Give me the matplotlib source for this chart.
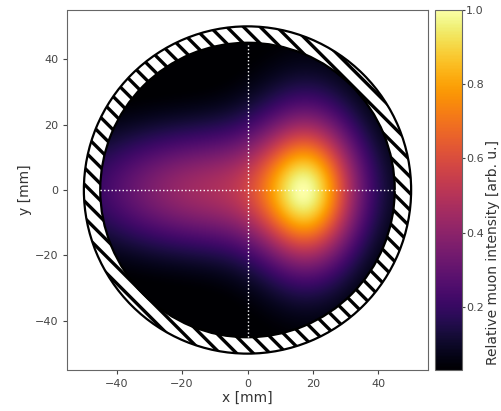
import numpy as np
import matplotlib
matplotlib.use("Agg")
import matplotlib.pyplot as plt
from matplotlib.patches import Annulus, Circle

# Beam-spot model: sum of elliptical Gaussian components (mm)
# components: broad tail, halo, core
comp_x0 = [-12.0, 18.0, 18.5]
comp_y0 = [0.0, 1.0, -1.0]
comp_sx = [27.0, 14.0, 9.5]
comp_sy = [13.0, 23.0, 15.0]
comp_amp = [0.44, 0.22, 0.54]

inner_radius = 45.0   # active area
outer_radius = 50.0   # housing
axis_ticks = [-40, -20, 0, 20, 40]
cbar_ticks = [0.2, 0.4, 0.6, 0.8, 1.0]
colour_min = 0.03

plt.rcParams["hatch.linewidth"] = 2.4
plt.rcParams["font.size"] = 8

fig = plt.figure(figsize=(5.02, 4.11), dpi=100)
ax = fig.add_axes([67 / 502, 41 / 411, 361 / 502, 360 / 411])
cax = fig.add_axes([435 / 502, 41 / 411, 27 / 502, 360 / 411])

n = 500
g = np.linspace(-inner_radius, inner_radius, n)
X, Y = np.meshgrid(g, g)
Z = np.zeros_like(X)
for x0, y0, sx, sy, a in zip(comp_x0, comp_y0, comp_sx, comp_sy, comp_amp):
    Z += a * np.exp(-((X - x0) ** 2) / (2 * sx ** 2) - ((Y - y0) ** 2) / (2 * sy ** 2))
Z /= Z.max()

im = ax.imshow(Z, extent=[-inner_radius, inner_radius, -inner_radius, inner_radius],
               origin="lower", cmap="inferno", vmin=colour_min, vmax=1.0,
               interpolation="bilinear")
clip = Circle((0, 0), inner_radius, transform=ax.transData)
im.set_clip_path(clip)

ring = Annulus((0, 0), outer_radius, outer_radius - inner_radius,
               facecolor="white", edgecolor="black", hatch="\\\\", linewidth=1.6)
ax.add_patch(ring)

ax.plot([0, 0], [-inner_radius, inner_radius], ls=":", color="white", lw=1.0)
ax.plot([-inner_radius, inner_radius], [0, 0], ls=":", color="white", lw=1.0)

ax.set_xlim(-55, 55)
ax.set_ylim(-55, 55)
ax.set_xticks(axis_ticks)
ax.set_yticks(axis_ticks)
ax.set_xlabel("x [mm]", fontsize=10, color="#333333", labelpad=1)
ax.set_ylabel("y [mm]", fontsize=10, color="#333333", labelpad=2)
ax.tick_params(colors="#444444", labelsize=8, length=3)
for s in ax.spines.values():
    s.set_color("#666666")

cb = fig.colorbar(im, cax=cax, ticks=cbar_ticks)
cb.ax.tick_params(colors="#444444", labelsize=8, length=2, pad=1.0)
cb.outline.set_edgecolor("#666666")
fig.text(486 / 502, 1 - 365 / 411, "Relative muon intensity [arb. u.]",
         rotation=90, ha="left", va="bottom", fontsize=10, color="#333333")

fig.savefig("out.png", dpi=100)
